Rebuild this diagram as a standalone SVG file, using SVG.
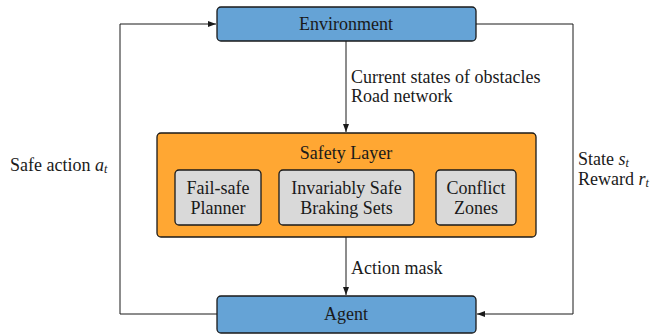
<svg xmlns="http://www.w3.org/2000/svg" width="666" height="335" viewBox="0 0 666 335">
<style>
text{font-family:"Liberation Serif";font-size:18px;fill:#1a1a1a}
.c{text-anchor:middle}
.m{font-style:italic}
.sub{font-style:italic;font-size:12px}
.blue{fill:#65A3D6;stroke:#1a1a1a;stroke-width:1.3}
.orange{fill:#FFA733;stroke:#1a1a1a;stroke-width:1.3}
.gray{fill:#D9D9D9;stroke:#1a1a1a;stroke-width:1.3}
.conn{fill:none;stroke:#1a1a1a;stroke-width:1}
</style>
<defs>
<marker id="arr" viewBox="0 0 8 6" refX="8" refY="3" markerWidth="8" markerHeight="6" markerUnits="userSpaceOnUse" orient="auto">
<path d="M0,0 L8,3 L0,6 Z" fill="#1a1a1a"/>
</marker>
</defs>
<g id="connectors">
<path class="conn" d="M346,41 V132" marker-end="url(#arr)"/>
<path class="conn" d="M346,237 V295" marker-end="url(#arr)"/>
<path class="conn" d="M217,314 H120 V24 H216" marker-end="url(#arr)"/>
<path class="conn" d="M476,24 H573 V314 H477" marker-end="url(#arr)"/>
<text x="351" y="83">Current states of obstacles</text>
<text x="351" y="102">Road network</text>
<text x="351" y="274">Action mask</text>
<text x="10" y="171">Safe action <tspan class="m">a</tspan><tspan class="sub" dy="2">t</tspan></text>
<text x="578" y="165">State <tspan class="m">s</tspan><tspan class="sub" dy="2">t</tspan></text>
<text x="578" y="185">Reward <tspan class="m">r</tspan><tspan class="sub" dy="2">t</tspan></text>
</g>
<g id="environment">
<rect class="blue" x="217" y="7" width="259" height="34" rx="4"/>
<text class="c" x="346" y="30">Environment</text>
</g>
<g id="safety-layer">
<rect class="orange" x="157" y="133" width="379" height="104" rx="4"/>
<text class="c" x="346" y="159">Safety Layer</text>
</g>
<g id="fail-safe-planner">
<rect class="gray" x="175" y="170" width="86" height="55" rx="4"/>
<text class="c" x="218" y="194">Fail-safe</text>
<text class="c" x="218" y="214">Planner</text>
</g>
<g id="braking-sets">
<rect class="gray" x="279" y="170" width="135" height="55" rx="4"/>
<text class="c" x="346.5" y="194">Invariably Safe</text>
<text class="c" x="346.5" y="214">Braking Sets</text>
</g>
<g id="conflict-zones">
<rect class="gray" x="436" y="170" width="80" height="55" rx="4"/>
<text class="c" x="476" y="194">Conflict</text>
<text class="c" x="476" y="214">Zones</text>
</g>
<g id="agent">
<rect class="blue" x="217" y="296" width="259" height="37" rx="4"/>
<text class="c" x="346" y="320">Agent</text>
</g>
</svg>
